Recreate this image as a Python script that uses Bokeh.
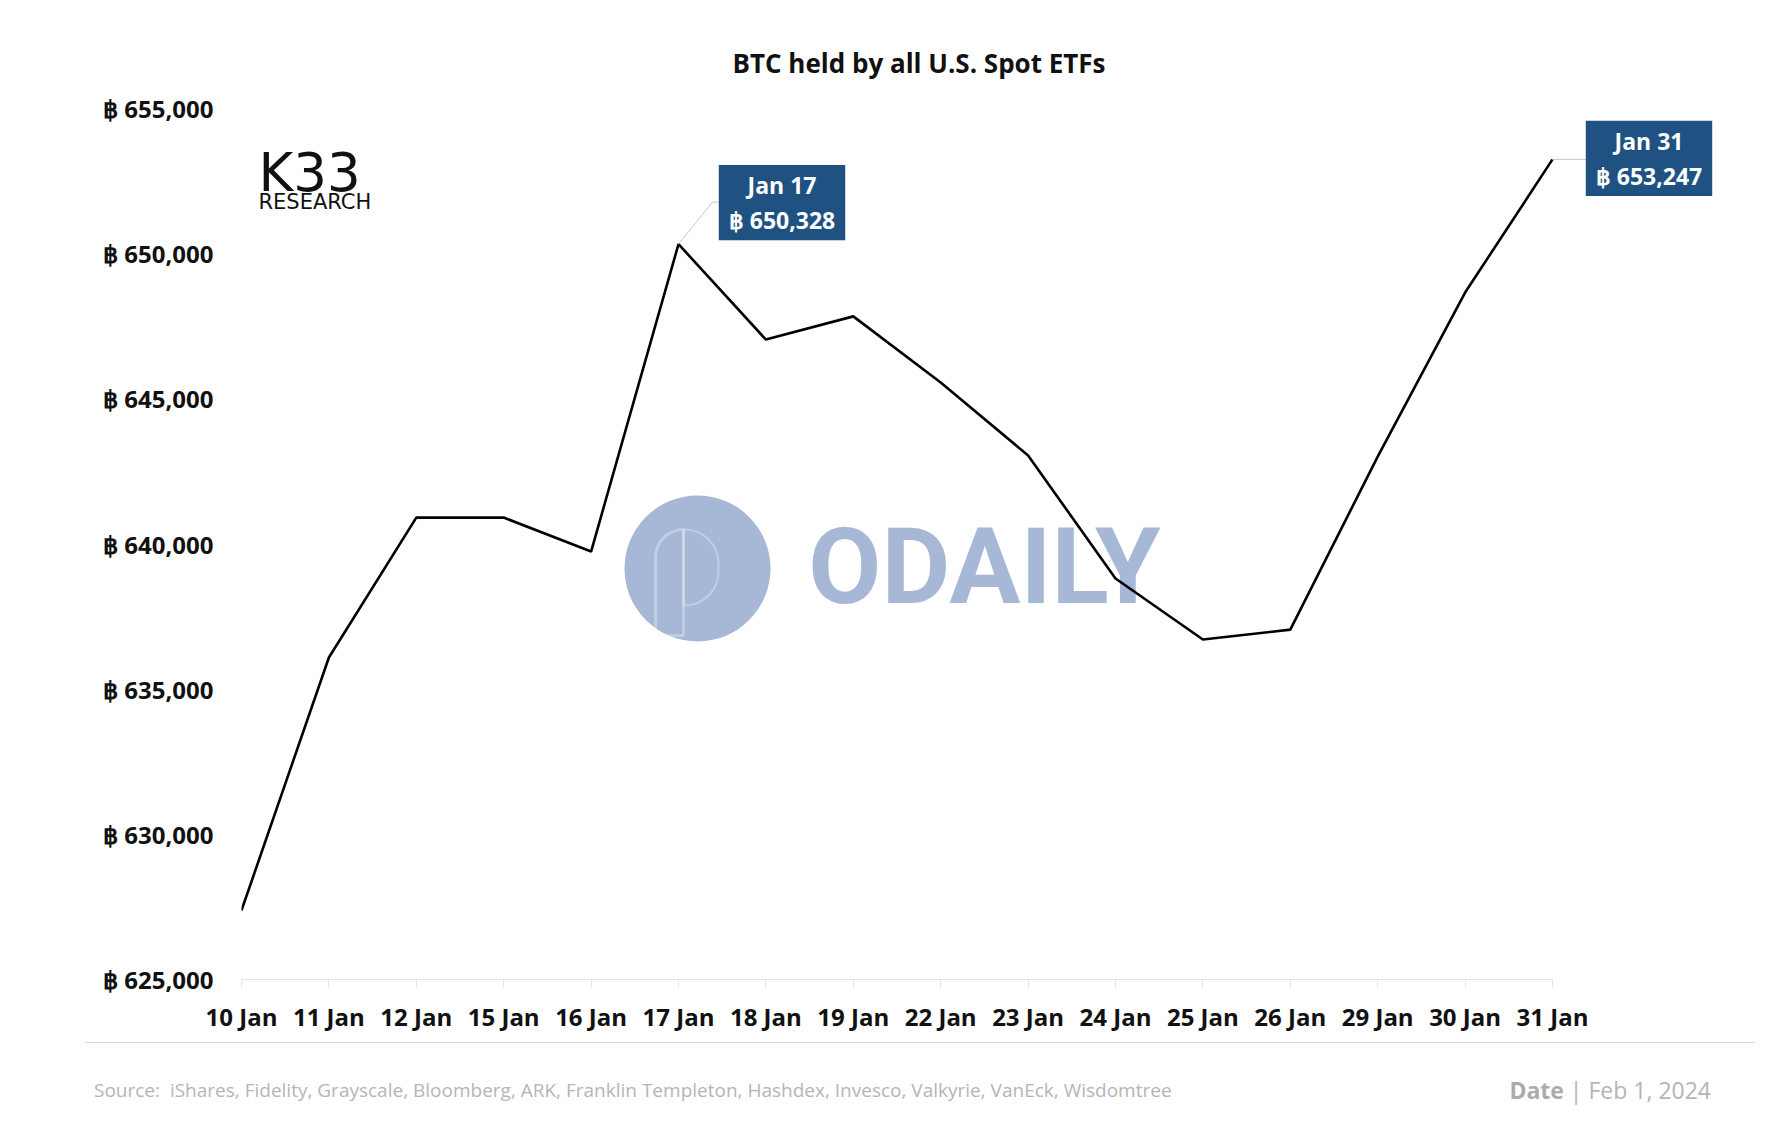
from bokeh.plotting import figure
from bokeh.models import Range1d, FixedTicker, Label, BoxAnnotation, Title, Div
from bokeh.layouts import column
from bokeh.embed import file_html
from bokeh.resources import INLINE

# ---------------- data ----------------
categories = ["10 Jan", "11 Jan", "12 Jan", "15 Jan", "16 Jan", "17 Jan", "18 Jan", "19 Jan",
              "22 Jan", "23 Jan", "24 Jan", "25 Jan", "26 Jan", "29 Jan", "30 Jan", "31 Jan"]
btc_held = [627380, 636090, 640910, 640910, 639740, 650328, 647040, 647840,
            645560, 643050, 638810, 636710, 637050, 643010, 648660, 653247]
y_ticks = [625000, 630000, 635000, 640000, 645000, 650000, 655000]
y_tick_labels = ["฿ {:,}".format(v) for v in y_ticks]
highlight_labels = ["Jan 17", "Jan 31"]
highlight_idx = [5, 15]
title_text = "BTC held by all U.S. Spot ETFs"
source_text = ("Source:&nbsp; iShares, Fidelity, Grayscale, Bloomberg, ARK, Franklin Templeton, "
               "Hashdex, Invesco, Valkyrie, VanEck, Wisdomtree")
date_label = "Date"
date_text = "Feb 1, 2024"

# ---------------- layout ----------------
W = 1764
H1, H2 = 1040, 82
ML, MR, MT, MB = 241, 12, 108, 61
frame_w = W - ML - MR
frame_h = H1 - MT - MB
n = len(categories)
px_per_x = 87.4
x_end = frame_w / px_per_x
y0, y1 = y_ticks[0], y_ticks[-1]
px_per_y = frame_h / (y1 - y0)

FONT = "Open Sans"
BLUE = "#1f5282"
DARK = "#111111"

p = figure(width=W, height=H1, output_backend="svg", toolbar_location=None,
           x_range=Range1d(0, x_end), y_range=Range1d(y0, y1),
           min_border_left=ML, min_border_right=MR, min_border_top=MT, min_border_bottom=MB)
p.outline_line_color = None
p.grid.visible = False
p.background_fill_color = "white"
p.border_fill_color = "white"

p.add_layout(Title(text=title_text, align="left", offset=491,
                   text_font=FONT, text_font_style="bold", text_font_size="26px",
                   text_color=DARK, standoff=55), "above")

xs = list(range(n))

# x axis
xa = p.xaxis[0]
xa.ticker = FixedTicker(ticks=xs)
xa.major_label_overrides = {i: c for i, c in enumerate(categories)}
xa.bounds = (0, n - 1)
xa.axis_line_color = "#e3e3e3"
xa.major_tick_line_color = "#e3e3e3"
xa.major_tick_out = 8
xa.major_tick_in = 0
xa.minor_tick_line_color = None
xa.major_label_text_font = FONT
xa.major_label_text_font_style = "bold"
xa.major_label_text_font_size = "24px"
xa.major_label_text_color = DARK
xa.major_label_standoff = 12

# y axis
ya = p.yaxis[0]
ya.ticker = FixedTicker(ticks=y_ticks)
ya.major_label_overrides = {v: s for v, s in zip(y_ticks, y_tick_labels)}
ya.axis_line_color = None
ya.major_tick_line_color = None
ya.minor_tick_line_color = None
ya.major_tick_out = 0
ya.major_tick_in = 0
ya.major_label_text_font = FONT
ya.major_label_text_font_style = "bold"
ya.major_label_text_font_size = "24px"
ya.major_label_text_color = DARK
ya.major_label_standoff = 28

# ---------------- watermark (underlay) ----------------
WM = "#a7b8d6"
scr = dict(left_units="screen", right_units="screen", bottom_units="screen", top_units="screen")
p.add_layout(BoxAnnotation(left=383, right=529, bottom=338, top=484, **scr,
                           fill_color=WM, fill_alpha=1.0, line_color=None,
                           border_radius=73, level="underlay"))
p.add_layout(BoxAnnotation(left=414, right=442, bottom=344, top=450, **scr,
                           fill_color=None, line_color="white", line_width=3,
                           border_radius=dict(top_left=28, top_right=0, bottom_right=0, bottom_left=0),
                           level="underlay"))
p.add_layout(BoxAnnotation(left=442, right=477, bottom=374, top=450, **scr,
                           fill_color=None, line_color="white", line_width=2,
                           border_radius=dict(top_left=0, top_right=34, bottom_right=34, bottom_left=0),
                           level="underlay"))
p.add_layout(Label(x=743, y=413, x_units="screen", y_units="screen", text="ODAILY",
                   text_font="Roboto", text_font_style="bold",
                   text_font_size="106px", text_color=WM, text_align="center",
                   text_baseline="middle", level="underlay"))

# ---------------- main line ----------------
p.line(xs, btc_held, line_color="black", line_width=2.6)

# ---------------- highlight callouts ----------------
i0 = highlight_idx[0]
v0 = btc_held[i0]
ex = i0 + 34 / px_per_x
ey = v0 + 42 / px_per_y
p.line([i0, ex, i0 + 41 / px_per_x], [v0, ey, ey], line_color="#c8c8c8", line_width=1)
p.add_layout(Label(x=i0, y=v0, x_offset=103.5, y_offset=41.5,
                   text="{}\n฿ {:,}".format(highlight_labels[0], v0),
                   text_font=FONT, text_font_style="bold", text_font_size="23px",
                   text_color="white", text_align="center", text_baseline="middle",
                   text_line_height=1.1,
                   background_fill_color=BLUE, padding=(10, 4)))
i1 = highlight_idx[1]
v1 = btc_held[i1]
p.line([i1, i1 + 34 / px_per_x], [v1, v1], line_color="#c8c8c8", line_width=1)
p.add_layout(Label(x=i1, y=v1, x_offset=96.5, y_offset=1,
                   text="{}\n฿ {:,}".format(highlight_labels[1], v1),
                   text_font=FONT, text_font_style="bold", text_font_size="23px",
                   text_color="white", text_align="center", text_baseline="middle",
                   text_line_height=1.1,
                   background_fill_color=BLUE, padding=(10, 4)))

# ---------------- logo ----------------
p.add_layout(Label(x=17, y=807, x_units="screen", y_units="screen", text="K33",
                   text_font="DejaVu Sans", text_font_size="53px",
                   text_color=DARK, text_align="left", text_baseline="alphabetic"))
p.add_layout(Label(x=17, y=778, x_units="screen", y_units="screen", text="RESEARCH",
                   text_font="DejaVu Sans", text_font_size="21px",
                   text_color=DARK, text_align="left", text_baseline="alphabetic"))

# ---------------- footer ----------------
footer_html = (
    '<div style="position:relative;width:{w}px;height:{h}px;font-family:\'Open Sans\',sans-serif;">'
    '<div style="position:absolute;left:85px;top:2px;width:1670px;height:1px;background:#d9d9d9;"></div>'
    '<div style="position:absolute;left:94px;top:36px;height:28px;line-height:28px;font-size:19px;'
    'color:#b5b5b5;white-space:nowrap;">{src}</div>'
    '<div style="position:absolute;right:53px;top:36px;height:28px;line-height:28px;font-size:23px;'
    'color:#b5b5b5;white-space:nowrap;"><b style="color:#ababab;">{dl}</b> | {dt}</div>'
    '</div>'
).format(w=W, h=H2, src=source_text, dl=date_label, dt=date_text)
footer = Div(text=footer_html, width=W, height=H2, margin=0)

layout = column(p, footer, spacing=0)
open("out.html", "w").write(file_html(layout, INLINE))
